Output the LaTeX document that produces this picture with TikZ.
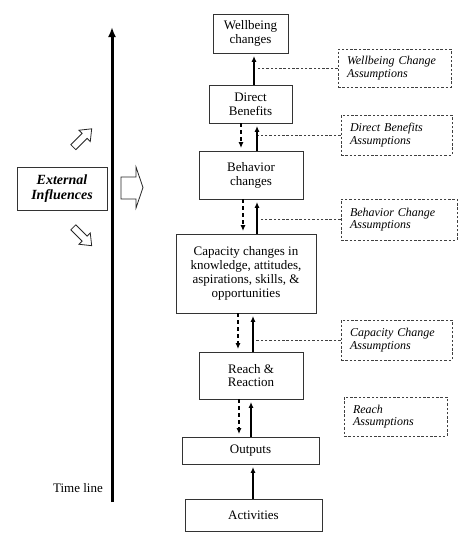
\documentclass[tikz,border=0pt]{standalone}
\usepackage{fontspec}
\setmainfont{Liberation Serif}
\usetikzlibrary{arrows.meta}
\begin{document}
\begin{tikzpicture}[x=1pt,y=-1pt,
 box/.style={draw=black!80, line width=0.9pt, align=center, font=\fontsize{13}{13.8}\selectfont, inner sep=0pt},
 abox/.style={draw=black!75, dash pattern=on 2.5pt off 1.8pt, line width=0.9pt, align=left, font=\fontsize{12}{12.5}\selectfont\itshape, inner xsep=9pt, inner ysep=0pt},
 uparr/.style={-{Latex[length=6pt,width=5pt]}, line width=1.4pt, shorten >=2.5pt},
 dnarr/.style={-{Latex[length=6pt,width=5pt]}, line width=1.6pt, dash pattern=on 4pt off 3pt, shorten >=2.5pt},
 conn/.style={draw=black!75, line width=0.9pt, dash pattern=on 2.5pt off 1.8pt},
 blockarr/.style={draw=black!85, line width=0.8pt, fill=white},
 timearr/.style={-{Latex[length=10pt,width=8pt]}, line width=3pt},
]
\useasboundingbox (0,0) rectangle (474,546);

% main boxes
\node[box, minimum width=75pt, minimum height=39pt] (wb) at (250.5,33.5) {Wellbeing\\changes};
\node[box, minimum width=83pt, minimum height=38pt] (db) at (250.5,104) {Direct\\Benefits};
\node[box, minimum width=104pt, minimum height=48pt] (bc) at (251,175) {Behavior\\changes};
\node[box, minimum width=140pt, minimum height=79pt] (cap) at (246,273.5) {Capacity changes in\\knowledge, attitudes,\\aspirations, skills, \&\\opportunities};
\node[box, minimum width=104pt, minimum height=47pt] (rr) at (251,375.5) {Reach \&\\Reaction};
\node[box, minimum width=137pt, minimum height=27pt] (out) at (250.5,450.5) {Outputs};
\node[box, minimum width=137pt, minimum height=32pt] (act) at (253.5,515) {Activities};

% assumption boxes
\node[abox, text width=95pt, minimum height=38pt] (wa) at (394.5,68) {Wellbeing Change\\Assumptions};
\node[abox, text width=93pt, minimum height=40pt] (da) at (396.5,135) {Direct Benefits\\Assumptions};
\node[abox, text width=98pt, minimum height=41pt] (ba) at (399,219.5) {Behavior Change\\Assumptions};
\node[abox, text width=93pt, minimum height=40pt] (ca) at (396.5,340) {Capacity Change\\Assumptions};
\node[abox, text width=85pt, minimum height=39pt] (ra) at (395.5,416.5) {Reach\\Assumptions};

% external influences
\node[box, font=\fontsize{14}{15}\selectfont\bfseries\itshape, minimum width=90pt, minimum height=43pt] (ext) at (62,188.5) {External\\Influences};
\node[font=\fontsize{13}{14}\selectfont, inner sep=0pt] (tl) at (78,488) {Time line};

% arrow x positions
\coordinate (s1) at (254,0);
\coordinate (s2) at (257,0);
\coordinate (s3) at (257,0);
\coordinate (s4) at (253,0);
\coordinate (s5) at (251,0);
\coordinate (s6) at (253,0);
\coordinate (d2) at (241,0);
\coordinate (d3) at (243,0);
\coordinate (d4) at (238,0);
\coordinate (d5) at (239,0);

% solid upward arrows
\draw[uparr] (db.north -| s1) -- (wb.south -| s1);
\draw[uparr] (bc.north -| s2) -- (db.south -| s2);
\draw[uparr] (cap.north -| s3) -- (bc.south -| s3);
\draw[uparr] (rr.north -| s4) -- (cap.south -| s4);
\draw[uparr] (out.north -| s5) -- (rr.south -| s5);
\draw[uparr] (act.north -| s6) -- (out.south -| s6);

% dashed downward arrows
\draw[dnarr] (db.south -| d2) -- (bc.north -| d2);
\draw[dnarr] (bc.south -| d3) -- (cap.north -| d3);
\draw[dnarr] (cap.south -| d4) -- (rr.north -| d4);
\draw[dnarr] (rr.south -| d5) -- (out.north -| d5);

% dashed connectors from assumption boxes
\coordinate (c1) at (257,0);
\coordinate (c2) at (258,0);
\coordinate (c3) at (260,0);
\coordinate (c4) at (256,0);
\draw[conn] (wa.west) -- (wa.west -| c1);
\draw[conn] (da.west) -- (da.west -| c2);
\draw[conn] (ba.west) -- (ba.west -| c3);
\draw[conn] (ca.west) -- (ca.west -| c4);

% time line
\coordinate (tlb) at (112,502);
\coordinate (tlt) at (112,27);
\draw[timearr] (tlb) -- (tlt);

% block arrows
\draw[blockarr] (121,177) -- (136,177) -- (136,167) -- (143,187.5) -- (136,208) -- (136,199) -- (121,199) -- cycle;
\begin{scope}[shift={(82.5,138)}, rotate=45]
\draw[blockarr] (-13,-3.5) -- (3,-3.5) -- (3,-8) -- (13,0) -- (3,8) -- (3,3.5) -- (-13,3.5) -- cycle;
\end{scope}
\begin{scope}[shift={(82.5,236.5)}, rotate=-45]
\draw[blockarr] (-13,-3.5) -- (3,-3.5) -- (3,-8) -- (13,0) -- (3,8) -- (3,3.5) -- (-13,3.5) -- cycle;
\end{scope}
\end{tikzpicture}
\end{document}
